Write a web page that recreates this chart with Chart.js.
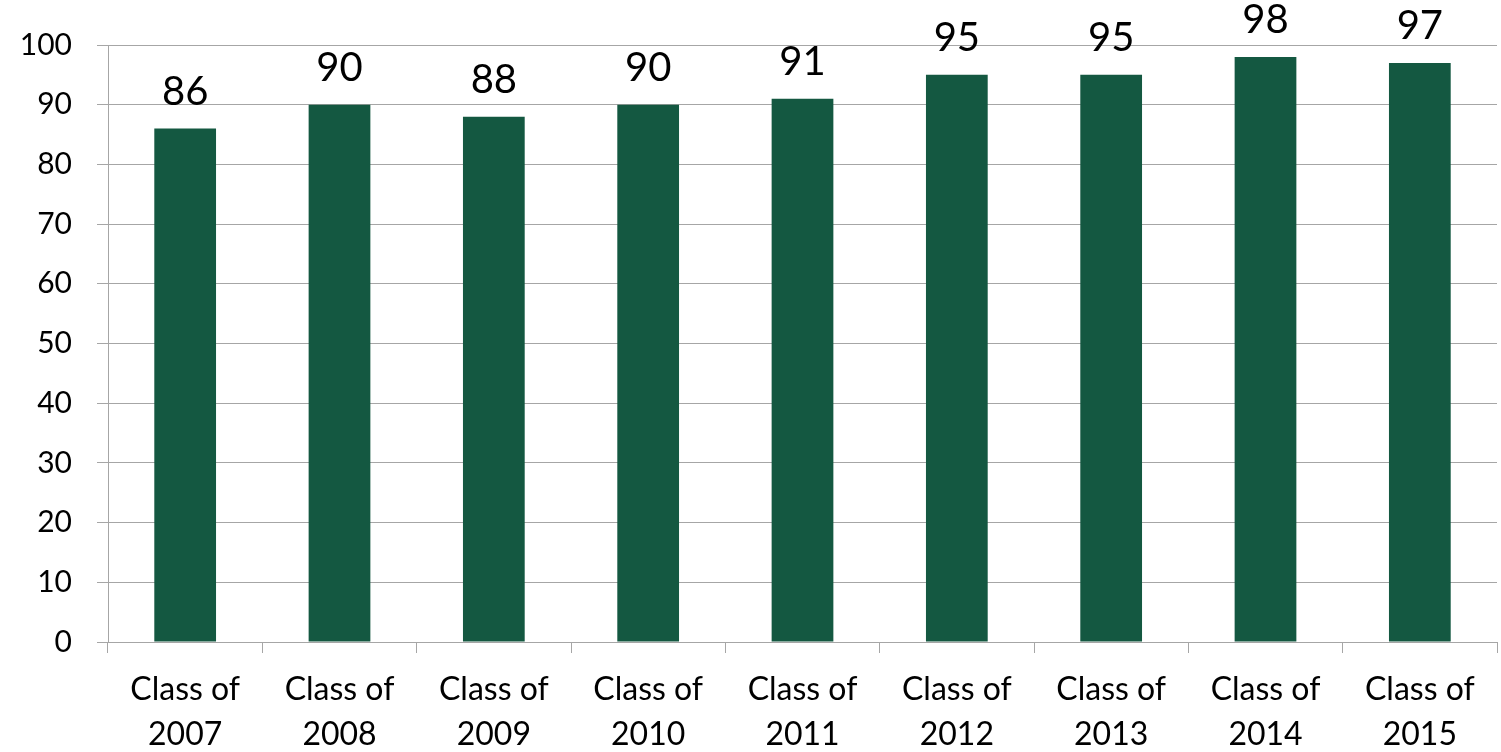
<!DOCTYPE html>
<html>
<head>
<meta charset="utf-8">
<script src="https://cdn.jsdelivr.net/npm/chart.js@4.4.1/dist/chart.umd.min.js"></script>
<style>
  html, body { margin: 0; padding: 0; background: #fff; }
  #wrap { width: 1501px; height: 752px; }
</style>
</head>
<body>
<div id="wrap"><canvas id="chart" width="1501" height="752"></canvas></div>
<script>
  // graduating classes and their rates
  const classLabels = [
    ["Class of", "2007"], ["Class of", "2008"], ["Class of", "2009"],
    ["Class of", "2010"], ["Class of", "2011"], ["Class of", "2012"],
    ["Class of", "2013"], ["Class of", "2014"], ["Class of", "2015"],
  ];
  const rates = [86, 90, 88, 90, 91, 95, 95, 98, 97];

  const FONT = "Lato, 'Open Sans', sans-serif";
  const BAR = "#145841";
  const GRID = "#a6a6a6";

  // value printed above each bar
  const barValues = {
    id: "barValues",
    afterDatasetsDraw(chart) {
      const ctx = chart.ctx;
      const meta = chart.getDatasetMeta(0);
      ctx.save();
      ctx.font = "40px " + FONT;
      ctx.fillStyle = "#000";
      ctx.textAlign = "center";
      ctx.textBaseline = "alphabetic";
      meta.data.forEach((bar, i) => {
        ctx.fillText(String(chart.data.datasets[0].data[i]), bar.x, bar.y - 24);
      });
      ctx.restore();
    },
  };

  new Chart(document.getElementById("chart"), {
    type: "bar",
    data: {
      labels: classLabels,
      datasets: [
        {
          data: rates,
          backgroundColor: BAR,
          barPercentage: 0.4,
          categoryPercentage: 1,
        },
      ],
    },
    options: {
      responsive: false,
      animation: false,
      layout: { padding: { top: 45, left: 0, right: 4, bottom: 0 } },
      plugins: {
        legend: { display: false },
        tooltip: { enabled: false },
      },
      scales: {
        x: {
          afterFit(scale) {
            scale.height = 110;
          },
          grid: {
            offset: true,
            drawOnChartArea: false,
            drawTicks: true,
            tickLength: 11,
            color: GRID,
          },
          border: { color: GRID },
          ticks: {
            color: "#000",
            font: { family: FONT, size: 32, lineHeight: 1.4 },
            padding: 14,
            maxRotation: 0,
          },
        },
        y: {
          min: 0,
          max: 100,
          afterFit(scale) {
            scale.width = 108;
          },
          grid: { color: GRID, tickLength: 11 },
          border: { color: GRID },
          ticks: {
            stepSize: 10,
            color: "#000",
            font: { family: FONT, size: 30 },
            padding: 25,
          },
        },
      },
    },
    plugins: [barValues],
  });
</script>
</body>
</html>
